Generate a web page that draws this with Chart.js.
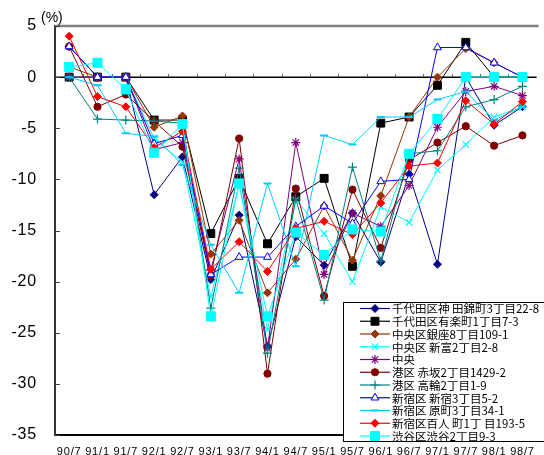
<!DOCTYPE html>
<html>
<head>
<meta charset="utf-8">
<script src="https://cdn.jsdelivr.net/npm/chart.js@4/dist/chart.umd.min.js"></script>
<style>
  html, body { margin: 0; padding: 0; background: #fff; overflow: hidden; }
  canvas { display: block; }
</style>
</head>
<body>
<canvas id="c" width="544" height="455" style="width:544px;height:455px"></canvas>
<script>
// Survey periods (year/month)
const categories = ['90/7','91/1','91/7','92/1','92/7','93/1','93/7','94/1','94/7','95/1','95/7','96/1','96/7','97/1','97/7','98/1','98/7'];

// Y axis ticks (%)
const yTicks = { min: -35, max: 5, step: 5 };

// Half-year change rate (%) per survey point
const kanda       = [3.0, 0, 0, -11.5, -7.8, -19.8, -13.5, -26.3, -15.6, -18.4, -13.3, -18.1, -9.5, -18.3, 0, -4.7, -2.9];
const yurakucho   = [0, 0, 0, -4.2, -4.2, -15.3, -9.9, -16.3, -11.7, -9.9, -18.5, -4.5, -3.9, -0.8, 3.4, 0, 0];
const ginza       = [1.0, 0, 0, -4.9, -3.8, -17.3, -14.0, -21.1, -17.8, -12.6, -17.9, -11.6, -3.9, 0, 2.8, 1.4, 0];
const shintomi    = [0, 0, 0, -6.0, -8.3, -21.5, -10.5, -24.7, -12.0, -15.3, -20.0, -12.7, -14.2, -9.1, -6.6, -3.9, -2.9];
const chuo        = [0, 0, 0, -7.1, -6.4, -18.9, -8.0, -26.5, -6.4, -19.3, -13.3, -14.6, -10.6, -4.9, -1.4, -0.9, -1.8];
const akasaka     = [3.0, -2.9, -1.7, -4.3, -6.8, -19.4, -6.0, -29.0, -10.9, -21.4, -11.0, -16.7, -8.1, -6.4, -4.8, -6.7, -5.7];
const takanawa    = [0, -4.1, -4.2, -4.3, -4.5, -22.6, -8.9, -27.0, -11.9, -21.8, -8.8, -18.0, -7.5, -7.2, -2.9, -2.2, -0.9];
const shinjuku    = [3.0, 0, 0, -6.5, -5.7, -19.3, -17.6, -17.6, -14.6, -12.6, -14.3, -10.2, -10.0, 2.9, 2.9, 1.4, 0];
const haramachi   = [0, -0.8, -5.5, -5.8, -8.6, -16.4, -21.1, -10.4, -18.5, -5.7, -6.6, -3.9, -3.9, -2.2, -1.4, -4.2, -2.9];
const hyakunincho = [4.0, -1.9, -2.9, -6.9, -5.3, -18.8, -16.1, -19.0, -14.8, -14.1, -15.4, -12.3, -8.7, -8.4, -2.3, -4.6, -2.4];
const shibuya     = [1.0, 1.4, -1.2, -7.4, -4.6, -23.4, -10.4, -23.4, -15.2, -17.4, -14.9, -15.1, -7.5, -4.1, 0, 0, 0];

const seriesNames = [
  '千代田区神 田錦町3丁目22-8',
  '千代田区有楽町1丁目7-3',
  '中央区銀座8丁目109-1',
  '中央区 新富2丁目2-8',
  '中央',
  '港区 赤坂2丁目1429-2',
  '港区 高輪2丁目1-9',
  '新宿区 新宿3丁目5-2',
  '新宿区 原町3丁目34-1',
  '新宿区百人 町1丁 目193-5',
  '渋谷区渋谷2丁目9-3'
];
const seriesValues = [kanda, yurakucho, ginza, shintomi, chuo, akasaka, takanawa, shinjuku, haramachi, hyakunincho, shibuya];

// Line colour and marker for each location
const styles = [
  { color: '#000080', point: 'rectRot',  radius: 4,   fill: '#000080', bw: 1 },
  { color: '#000000', point: 'rect',     radius: 5.6, fill: '#000000', bw: 1 },
  { color: '#993300', point: 'rectRot',  radius: 4,   fill: '#993300', bw: 1 },
  { color: '#00FFFF', point: 'crossRot', radius: 4.5, fill: '#00FFFF', bw: 1.2 },
  { color: '#800080', point: 'star',     radius: 4.5, fill: '#800080', bw: 1.2 },
  { color: '#800000', point: 'circle',   radius: 3.6, fill: '#800000', bw: 1 },
  { color: '#008080', point: 'cross',    radius: 4.5, fill: '#008080', bw: 1.2 },
  { color: '#0000FF', point: 'triangle', radius: 4.5, fill: '#FFFFFF', bw: 1 },
  { color: '#00CCFF', point: 'line',     radius: 4,   fill: '#00CCFF', bw: 2 },
  { color: '#FF0000', point: 'rectRot',  radius: 4,   fill: '#FF0000', bw: 1 },
  { color: '#00FFFF', point: 'rect',     radius: 6.4, fill: '#00FFFF', bw: 1 }
];

const datasets = seriesValues.map((vals, i) => ({
  label: seriesNames[i],
  data: vals,
  borderColor: styles[i].color,
  backgroundColor: styles[i].fill,
  borderWidth: 1,
  pointStyle: styles[i].point,
  pointRadius: styles[i].radius,
  pointBorderColor: styles[i].color,
  pointBackgroundColor: styles[i].fill,
  pointBorderWidth: styles[i].bw,
  tension: 0,
  order: seriesValues.length - i
}));

const frame = {
  id: 'frame',
  beforeDraw(chart) {
    chart.ctx.letterSpacing = '0.8px';
  },
  beforeDatasetsDraw(chart) {
    const { ctx, chartArea: a, scales: { x, y } } = chart;
    ctx.letterSpacing = '0px';
    ctx.save();
    const seg = (x1, y1, x2, y2) => { ctx.beginPath(); ctx.moveTo(x1, y1); ctx.lineTo(x2, y2); ctx.stroke(); };
    // top frame line at the maximum
    ctx.strokeStyle = '#808080';
    ctx.lineWidth = 2.5;
    seg(a.left, a.top, a.right + 2, a.top);
    // zero line
    const y0 = y.getPixelForValue(0);
    ctx.strokeStyle = '#000';
    ctx.lineWidth = 1.5;
    seg(a.left, y0, a.right, y0);
    // category dividers on the zero line
    ctx.strokeStyle = '#606060';
    ctx.lineWidth = 1;
    for (let i = 1; i < categories.length; i++) {
      const bx = Math.round((x.getPixelForTick(i - 1) + x.getPixelForTick(i)) / 2) + 0.5;
      seg(bx, y0, bx, y0 - 3);
    }
    // inner tick marks on the value axis
    ctx.strokeStyle = '#404040';
    y.ticks.forEach(t => {
      const py = Math.round(y.getPixelForValue(t.value)) + 0.5;
      seg(a.left, py, a.left + 5, py);
    });
    ctx.restore();
  },
  afterDraw(chart) {
    const { ctx } = chart;
    ctx.save();
    ctx.letterSpacing = '0px';
    // unit caption
    ctx.fillStyle = '#000';
    ctx.font = '14px "Liberation Sans", Arial, sans-serif';
    ctx.textBaseline = 'middle';
    ctx.textAlign = 'left';
    ctx.fillText('(%)', 41, 18);

    // legend box
    const bx = 343.5, by = 302.5, bw = 210, bh = 139;
    ctx.fillStyle = '#fff';
    ctx.fillRect(bx, by, bw, bh);
    ctx.strokeStyle = '#000';
    ctx.lineWidth = 1;
    ctx.strokeRect(bx, by, bw, bh);

    const rowTop = 308.5, rowStep = 12.75;
    ctx.font = '11.5px "Noto Sans CJK JP", sans-serif';
    datasets.forEach((ds, i) => {
      const cy = rowTop + i * rowStep;
      ctx.strokeStyle = ds.borderColor;
      ctx.lineWidth = 1.2;
      ctx.beginPath(); ctx.moveTo(360, cy); ctx.lineTo(390, cy); ctx.stroke();
      ctx.fillStyle = ds.pointBackgroundColor;
      ctx.strokeStyle = ds.pointBorderColor;
      ctx.lineWidth = ds.pointBorderWidth;
      Chart.helpers.drawPoint(ctx, { pointStyle: ds.pointStyle, radius: ds.pointRadius, rotation: 0, borderWidth: ds.pointBorderWidth }, 375, cy);
      ctx.fillStyle = '#000';
      ctx.fillText(ds.label, 392, cy + 0.5);
    });
    ctx.restore();
  }
};

new Chart(document.getElementById('c'), {
  type: 'line',
  data: { labels: categories, datasets },
  options: {
    responsive: false,
    animation: false,
    devicePixelRatio: 1,
    layout: { padding: { left: 0, right: 0, top: 26, bottom: 0 } },
    plugins: { legend: { display: false }, tooltip: { enabled: false } },
    scales: {
      x: {
        type: 'category',
        offset: true,
        grid: { display: false, drawTicks: true, tickLength: 10 },
        border: { display: true, color: '#000', width: 2 },
        ticks: {
          autoSkip: false, maxRotation: 0, minRotation: 0, padding: 0,
          color: '#000',
          font: { family: '"Liberation Sans", Arial, sans-serif', size: 11 }
        },
        afterFit(s) { s.height = 20; }
      },
      y: {
        min: yTicks.min, max: yTicks.max,
        grid: { display: false, drawTicks: true, tickLength: 18 },
        border: { display: true, color: '#333', width: 2 },
        ticks: {
          stepSize: yTicks.step, padding: 0, color: '#000',
          font: { family: '"Liberation Sans", Arial, sans-serif', size: 16 }
        },
        afterFit(s) { s.width = 55; }
      }
    }
  },
  plugins: [frame]
});
</script>
</body>
</html>
